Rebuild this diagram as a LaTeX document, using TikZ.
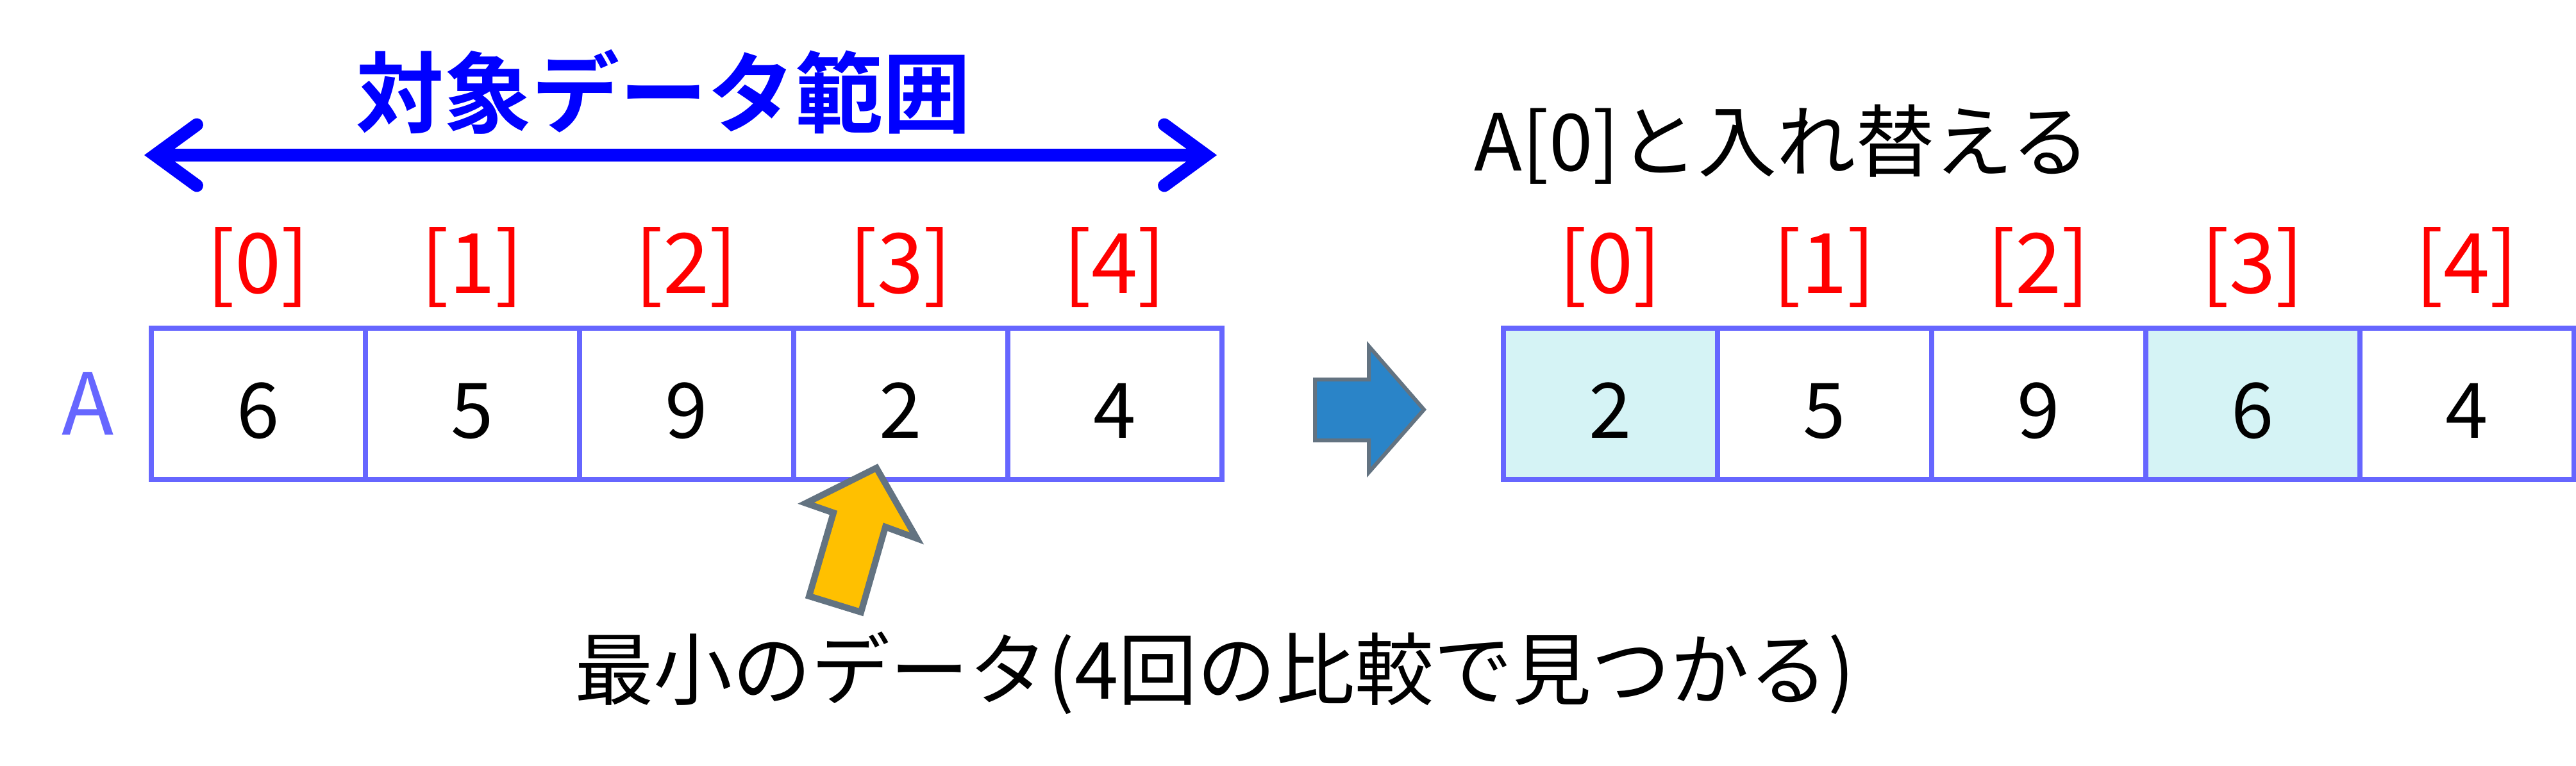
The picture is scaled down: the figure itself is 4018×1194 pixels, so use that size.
\documentclass[tikz,border=0pt]{standalone}
\usepackage{fontspec}
\setmainfont{Noto Sans CJK JP}[BoldFont=Noto Sans CJK JP Bold]
\usetikzlibrary{arrows.meta, positioning}
\tikzset{>=latex}

\definecolor{arrayblue}{RGB}{102,102,255}
\definecolor{idxred}{RGB}{255,0,0}
\definecolor{rangeblue}{RGB}{0,0,255}
\definecolor{swapcyan}{RGB}{213,243,245}
\definecolor{pointgold}{RGB}{255,192,0}
\definecolor{edgegray}{RGB}{99,115,129}
\definecolor{stepblue}{RGB}{42,132,200}

\begin{document}
\begin{tikzpicture}[x=0.1mm, y=-0.1mm,
		cell/.style={draw=arrayblue, line width=0.8mm, outer sep=0pt, inner sep=0pt,
			minimum width=33.4mm, minimum height=23.6mm,
			font=\fontsize{34pt}{40pt}\selectfont, text height=30.6pt, text depth=0pt},
		idx/.style={text=idxred, inner sep=0pt, outer sep=0pt,
			font=\fontsize{37pt}{44pt}\selectfont},
		swapped/.style={fill=swapcyan}]
		\useasboundingbox (0,0) rectangle (4018,1194);

		% the array before
		\node[cell] (L0) at (402.7,630) {6};
		\node[cell, right=0pt of L0] (L1) {5};
		\node[cell, right=0pt of L1] (L2) {9};
		\node[cell, right=0pt of L2] (L3) {2};
		\node[cell, right=0pt of L3] (L4) {4};
		\node[text=arrayblue, inner sep=0pt, font=\fontsize{38pt}{44pt}\selectfont,
			left=5.7mm of L0] (Aname) {A};

		% indices before
		\node[idx, above=3.2mm of L0] (li0) {[0]};
		\node[idx, above=3.2mm of L1] (li1) {[1]};
		\node[idx, above=3.2mm of L2] (li2) {[2]};
		\node[idx, above=3.2mm of L3] (li3) {[3]};
		\node[idx, above=3.2mm of L4] (li4) {[4]};

		% the range marker
		\coordinate (rangeL) at (225,242);
		\coordinate (rangeR) at (1898,242);
		\draw[rangeblue, line width=2mm,
			{Straight Barb[length=6.5mm, width=9.5mm, line cap=round]}-{Straight Barb[length=6.5mm, width=9.5mm, line cap=round]}]
			(rangeL) -- (rangeR);
		\node[text=rangeblue, font=\fontsize{39pt}{46pt}\selectfont\bfseries] (range) at (1035,143) {対象データ範囲};

		% the minimum pointer
		\draw[fill=pointgold, draw=edgegray, line width=1mm]
			(1367,730) -- (1430,840) -- (1381,822) -- (1343,955) -- (1262,930)
			-- (1300,800) -- (1257,785) -- cycle;
		\node[font=\fontsize{35pt}{42pt}\selectfont] (found) at (1895,1050) {最小のデータ(4回の比較で見つかる)};

		% step arrow
		\draw[fill=stepblue, draw=edgegray, line width=0.6mm]
			(2051,592) -- (2135,592) -- (2135,540) -- (2221,639) -- (2135,737)
			-- (2135,687) -- (2051,687) -- cycle;

		% the array after
		\node[cell, swapped, right=43.9mm of L4] (R0) {2};
		\node[cell, right=0pt of R0] (R1) {5};
		\node[cell, right=0pt of R1] (R2) {9};
		\node[cell, swapped, right=0pt of R2] (R3) {6};
		\node[cell, right=0pt of R3] (R4) {4};

		% indices after
		\node[idx, above=3.2mm of R0] (ri0) {[0]};
		\node[idx, above=3.2mm of R1] (ri1) {[1]};
		\node[idx, above=3.2mm of R2] (ri2) {[2]};
		\node[idx, above=3.2mm of R3] (ri3) {[3]};
		\node[idx, above=3.2mm of R4] (ri4) {[4]};

		\node[font=\fontsize{35pt}{42pt}\selectfont] (swap) at (2780,225) {A[0]と入れ替える};
	\end{tikzpicture}
\end{document}
